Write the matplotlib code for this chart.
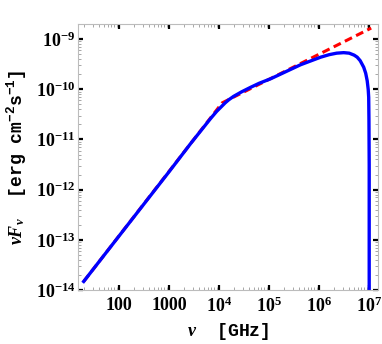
import numpy as np
import matplotlib
matplotlib.use("Agg")
import matplotlib.pyplot as plt
from matplotlib.ticker import FixedLocator, LogLocator, NullFormatter

plt.rcParams['mathtext.fontset'] = 'custom'
plt.rcParams['mathtext.default'] = 'regular'
plt.rcParams['mathtext.rm'] = 'Liberation Serif:bold'
plt.rcParams['mathtext.bf'] = 'Liberation Serif:bold'
plt.rcParams['mathtext.it'] = 'Liberation Serif:italic:bold'
plt.rcParams['mathtext.bfit'] = 'Liberation Serif:italic:bold'

# Blue curve: log10(nu/GHz), log10(nu F_nu)
blue_log_nu = [1.29, 2.0, 3.0, 3.43, 3.83, 3.95, 4.05, 4.12, 4.19, 4.29, 4.45, 4.63, 4.80,
               5.03, 5.63, 6.03, 6.20, 6.35, 6.49, 6.60, 6.70, 6.76, 6.82, 6.89,
               6.93, 6.96, 6.98, 6.99, 6.995, 7.0, 7.0]
blue_log_flux = [-13.83, -12.92, -11.64, -11.08, -10.58, -10.44, -10.34, -10.27, -10.21,
                 -10.14, -10.05, -9.96, -9.88, -9.79, -9.51, -9.36, -9.31, -9.28, -9.27,
                 -9.28, -9.32, -9.36, -9.43, -9.56, -9.68, -9.83, -10.0, -10.16, -10.6,
                 -11.5, -14.2]

# Red dashed broken power law
red_log_nu = [1.29, 4.06, 7.04]
red_log_flux = [-13.83, -10.27, -8.78]

xtick_values = [1e2, 1e3, 1e4, 1e5, 1e6, 1e7]
xtick_labels = ["100", "1000", r"$10^{4}$", r"$10^{5}$", r"$10^{6}$", r"$10^{7}$"]
ytick_values = [1e-14, 1e-13, 1e-12, 1e-11, 1e-10, 1e-9]
ytick_labels = [r"$10^{-14}$", r"$10^{-13}$", r"$10^{-12}$", r"$10^{-11}$",
                r"$10^{-10}$", r"$10^{-9}$"]

fig = plt.figure(figsize=(3.82, 3.44), dpi=100)
ax = fig.add_axes([78/382, 54/344, 300/382, 266/344])
ax.set_xscale('log')
ax.set_yscale('log')

ax.plot(10**np.array(red_log_nu), 10**np.array(red_log_flux), color=(1, 0, 0),
        lw=2.2, dashes=(2.6, 1.5), dash_capstyle='butt')
ax.plot(10**np.array(blue_log_nu), 10**np.array(blue_log_flux), color=(0, 0, 1),
        lw=2.4, solid_joinstyle='round')

ax.set_xlim(15, 1.5e7)
ax.set_ylim(1e-14, 2e-9)

for s in ax.spines.values():
    s.set_color('#bcbcbc')
    s.set_linewidth(0.8)

ax.xaxis.set_major_locator(FixedLocator(xtick_values))
ax.set_xticklabels(xtick_labels)
ax.yaxis.set_major_locator(FixedLocator(ytick_values))
ax.set_yticklabels(ytick_labels)
ax.xaxis.set_minor_locator(LogLocator(base=10, subs=np.arange(2, 10), numticks=20))
ax.yaxis.set_minor_locator(LogLocator(base=10, subs=np.arange(2, 10), numticks=20))
ax.xaxis.set_minor_formatter(NullFormatter())
ax.yaxis.set_minor_formatter(NullFormatter())

ax.tick_params(which='major', direction='in', length=3.5, width=1.6, color='black',
               top=True, right=True)
ax.tick_params(which='minor', direction='in', length=2, width=0.6, color='#999999',
               top=True, right=True)
ax.tick_params(axis='x', which='major', pad=5)
ax.tick_params(axis='y', which='major', pad=2)
for lab in ax.get_xticklabels() + ax.get_yticklabels():
    lab.set_fontfamily('Liberation Serif')
    lab.set_fontweight('bold')
    lab.set_fontsize(13)

ax.set_xlabel(r"$\mathbfit{\nu}$  [GHz]", fontfamily='Liberation Mono',
              fontweight='bold', fontsize=13, labelpad=3)
ax.set_ylabel(r"$\mathbfit{\nu F_{\nu}}$  [erg cm$^{-2}$s$^{-1}$]",
              fontfamily='Liberation Mono', fontweight='bold', fontsize=13, labelpad=5)

fig.savefig("out.png", dpi=100)
